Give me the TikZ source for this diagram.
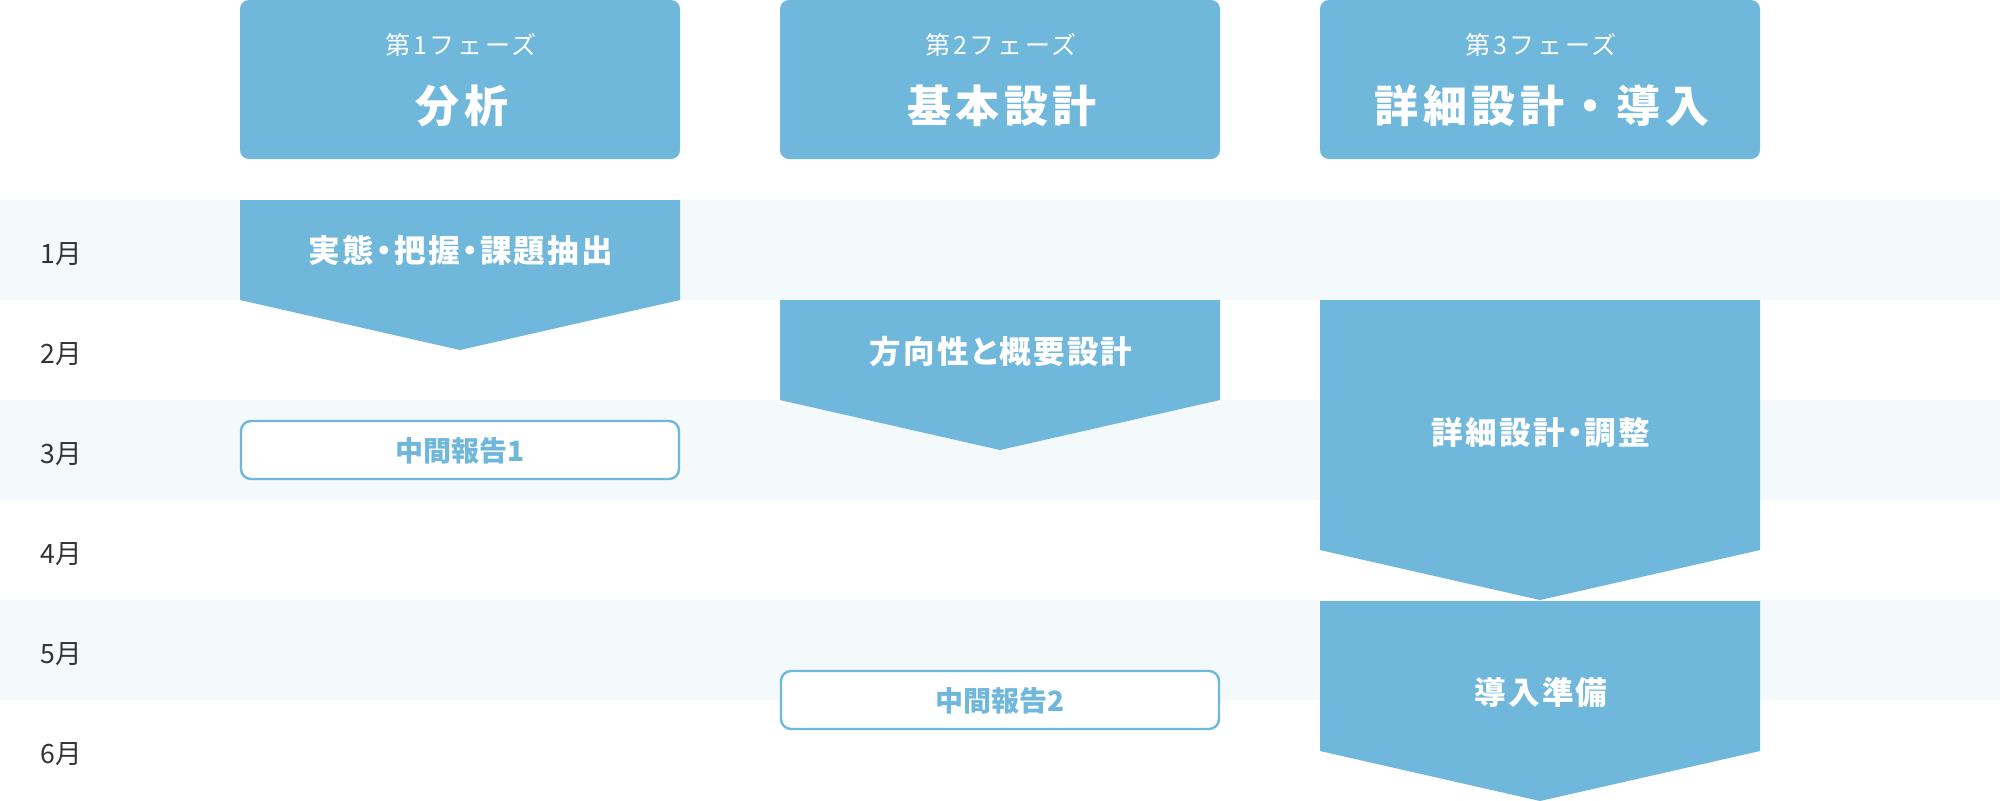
\documentclass[tikz,border=0pt]{standalone}
\usepackage{fontspec}
\setmainfont{Noto Sans CJK JP}
\newfontfamily\jpsub{Noto Sans CJK JP}[LetterSpace=11]
\newfontfamily\jptitle{Noto Sans CJK JP}[LetterSpace=10]
\newfontfamily\jparrow{Noto Sans CJK JP}[LetterSpace=7,RawFeature=+palt]
\newfontfamily\jpplain{Noto Sans CJK JP}[RawFeature=+palt]
\definecolor{phaseblue}{HTML}{6FB7DB}
\definecolor{bandbg}{HTML}{F4F9FC}
\definecolor{monthgray}{HTML}{333333}
\tikzset{
  phasebox/.style={fill=phaseblue, rounded corners=4.5pt},
  band/.style={fill=bandbg},
  flowarrow/.style={fill=phaseblue},
  reportbox/.style={draw=phaseblue, line width=1.2pt, fill=white, rounded corners=5pt},
  subtext/.style={text=white, inner sep=0pt, font=\jpsub\fontsize{12.5pt}{14pt}\selectfont},
  titletext/.style={text=white, inner sep=0pt, font=\jptitle\bfseries\fontsize{22pt}{26pt}\selectfont},
  arrowtext/.style={text=white, inner sep=0pt, font=\jparrow\bfseries\fontsize{15.8pt}{18pt}\selectfont},
  reporttext/.style={text=phaseblue, inner sep=0pt, font=\jpplain\bfseries\fontsize{14pt}{16pt}\selectfont},
  monthtext/.style={text=monthgray, inner sep=0pt, font=\jpplain\fontsize{13.3pt}{15pt}\selectfont}
}
\begin{document}
\begin{tikzpicture}[x=0.5pt,y=-0.5pt]
\useasboundingbox (0,0) rectangle (2000,800);
\fill[white] (0,0) rectangle (2000,800);
% background bands
\fill[band] (0,200) rectangle (2000,300);
\fill[band] (0,400) rectangle (2000,500);
\fill[band] (0,600) rectangle (2000,700);
% month labels
\node[monthtext] (m1) at (61,254) {1月};
\node[monthtext] (m2) at (61,354) {2月};
\node[monthtext] (m3) at (61,454) {3月};
\node[monthtext] (m4) at (61,554) {4月};
\node[monthtext] (m5) at (61,654) {5月};
\node[monthtext] (m6) at (61,754) {6月};
% phase headers
\fill[phasebox] (240,0) rectangle (680,159);
\fill[phasebox] (780,0) rectangle (1220,159);
\fill[phasebox] (1320,0) rectangle (1760,159);
\node[subtext] (p1s) at (461,45) {第1フェーズ};
\node[titletext] (p1t) at (462,106) {分析};
\node[subtext] (p2s) at (1001,45) {第2フェーズ};
\node[titletext] (p2t) at (1002,106) {基本設計};
\node[subtext] (p3s) at (1541,45) {第3フェーズ};
\node[titletext] (p3t) at (1542,106) {詳細設計・導入};
% flow arrows
\fill[flowarrow] (240,200) -- (680,200) -- (680,300) -- (460,350) -- (240,300) -- cycle;
\fill[flowarrow] (780,300) -- (1220,300) -- (1220,400) -- (1000,450) -- (780,400) -- cycle;
\fill[flowarrow] (1320,300) -- (1760,300) -- (1760,550) -- (1540,600) -- (1320,550) -- cycle;
\fill[flowarrow] (1320,601) -- (1760,601) -- (1760,751) -- (1540,801) -- (1320,751) -- cycle;
\node[arrowtext] (a1) at (461,251) {実態・把握・課題抽出};
\node[arrowtext] (a2) at (1001,352) {方向性と概要設計};
\node[arrowtext] (a3) at (1541,432) {詳細設計・調整};
\node[arrowtext] (a4) at (1541,692) {導入準備};
% reports
\draw[reportbox] (241,421) rectangle (679,479);
\draw[reportbox] (781,671) rectangle (1219,729);
\node[reporttext] (r1) at (460,451) {中間報告1};
\node[reporttext] (r2) at (1000,701) {中間報告2};
\end{tikzpicture}
\end{document}
